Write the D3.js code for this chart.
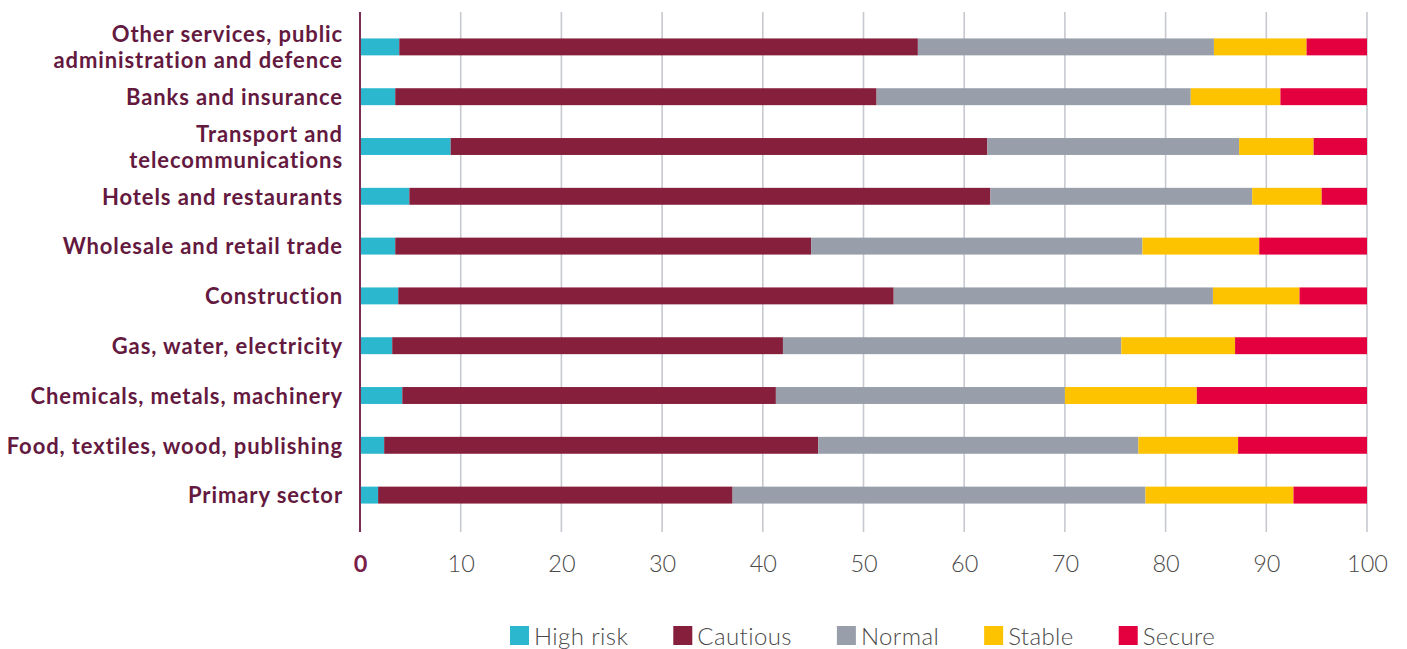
<!DOCTYPE html>
<html>
<head>
<meta charset="utf-8">
<script src="https://cdn.jsdelivr.net/npm/d3@7"></script>
<style>
  html, body { margin: 0; padding: 0; background: #fff; }
  svg { display: block; }
</style>
</head>
<body>
<svg id="chart" width="1407" height="649"></svg>
<script>
// ---- data ----
const categories = [
  ["Other services, public", "administration and defence"],
  ["Banks and insurance"],
  ["Transport and", "telecommunications"],
  ["Hotels and restaurants"],
  ["Wholesale and retail trade"],
  ["Construction"],
  ["Gas, water, electricity"],
  ["Chemicals, metals, machinery"],
  ["Food, textiles, wood, publishing"],
  ["Primary sector"]
];
const seriesNames = ["High risk", "Cautious", "Normal", "Stable", "Secure"];
const highRisk = [3.9, 3.5, 9.0, 4.9, 3.5, 3.8, 3.2, 4.2, 2.4, 1.8];
const cautious = [51.5, 47.8, 53.3, 57.7, 41.3, 49.2, 38.8, 37.1, 43.1, 35.2];
const normal   = [29.4, 31.2, 25.0, 26.0, 32.9, 31.7, 33.6, 28.7, 31.8, 41.0];
const stable   = [9.2, 8.9, 7.4, 6.9, 11.6, 8.6, 11.3, 13.1, 9.9, 14.7];
const secure   = [6.0, 8.6, 5.3, 4.5, 10.7, 6.7, 13.1, 16.9, 12.8, 7.3];
const xTicks = [0, 10, 20, 30, 40, 50, 60, 70, 80, 90, 100];
const colors = ["#2bb8cf", "#861f3c", "#989fab", "#fdc300", "#e4003f"];

(function () {
// ---- layout ----
const svg = d3.select("#chart");
const mLeft = 360, mRight = 1367, mTop = 22, mBottom = 520;
const labelFont = "Lato, 'Open Sans', sans-serif";

const rows = categories.map((c, i) => {
  const o = { key: i, label: c };
  seriesNames.forEach((s, j) => o[s] = [highRisk, cautious, normal, stable, secure][j][i]);
  return o;
});

const x = d3.scaleLinear().domain([0, 100]).range([mLeft, mRight]);
const y = d3.scaleBand().domain(rows.map(d => d.key)).range([mTop, mBottom])
  .paddingInner(0.66).paddingOuter(0.33);
const color = d3.scaleOrdinal().domain(seriesNames).range(colors);

// gridlines
svg.append("g")
  .selectAll("line")
  .data(xTicks.filter(t => t > 0))
  .join("line")
  .attr("x1", d => x(d)).attr("x2", d => x(d))
  .attr("y1", 12).attr("y2", 532)
  .attr("stroke", "#c6c9cf").attr("stroke-width", 1.6);

// stacked bars
const stack = d3.stack().keys(seriesNames)(rows);
svg.append("g")
  .selectAll("g")
  .data(stack)
  .join("g")
  .attr("fill", d => color(d.key))
  .selectAll("rect")
  .data(d => d)
  .join("rect")
  .attr("x", d => x(d[0]))
  .attr("width", d => x(d[1]) - x(d[0]))
  .attr("y", d => y(d.data.key))
  .attr("height", y.bandwidth());

// y axis line
svg.append("line")
  .attr("x1", mLeft).attr("x2", mLeft)
  .attr("y1", 12).attr("y2", 532)
  .attr("stroke", "#7b2d55").attr("stroke-width", 2);

// category labels
const lab = svg.append("g")
  .attr("font-family", labelFont)
  .attr("font-weight", 700)
  .attr("font-size", 22)
  .attr("letter-spacing", "0.9px")
  .attr("fill", "#64193f")
  .attr("text-anchor", "end");
rows.forEach(r => {
  const cy = y(r.key) + y.bandwidth() / 2;
  const n = r.label.length;
  const lh = 26;
  r.label.forEach((line, k) => {
    lab.append("text")
      .attr("x", 343)
      .attr("y", cy + (k - (n - 1) / 2) * lh)
      .attr("dy", "0.38em")
      .text(line);
  });
});

// x axis tick labels
const xAxis = d3.axisBottom(x).tickValues(xTicks).tickSize(0).tickPadding(0);
const gx = svg.append("g").attr("transform", "translate(0,555)").call(xAxis);
gx.select(".domain").remove();
gx.selectAll("text")
  .attr("font-family", labelFont)
  .attr("font-weight", 300)
  .attr("font-size", 23.5)
  .attr("fill", "#4a4a4a")
  .attr("dy", "0.72em");
gx.selectAll(".tick").filter(d => d === 0).select("text")
  .attr("font-weight", 700).attr("fill", "#7a1f4a");

// legend
const lg = svg.append("g").attr("font-family", labelFont).attr("font-size", 24)
  .attr("letter-spacing", "0.4px")
  .attr("font-weight", 300).attr("fill", "#4a4a4a");
let lx = 510;
seriesNames.forEach(s => {
  lg.append("rect").attr("x", lx).attr("y", 626).attr("width", 19).attr("height", 19)
    .attr("fill", color(s));
  const t = lg.append("text").attr("x", lx + 24).attr("y", 636).attr("dy", "0.36em").text(s);
  const w = t.node().getComputedTextLength();
  lx += 24 + w + 45;
});
})();
</script>
</body>
</html>
